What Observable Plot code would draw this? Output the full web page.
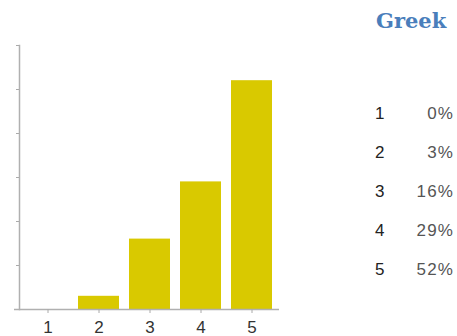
<!DOCTYPE html>
<html>
<head>
<meta charset="utf-8">
<script src="https://cdn.jsdelivr.net/npm/d3@7"></script>
<script src="https://cdn.jsdelivr.net/npm/@observablehq/plot@0.6"></script>
<style>
  html, body { margin: 0; padding: 0; background: #fff; }
  #wrap { position: relative; width: 457px; height: 336px; overflow: hidden; }
  #chart { position: absolute; left: 0; top: 0; }
  #title { position: absolute; left: 376px; top: 8px; font-family: "DejaVu Serif", "Liberation Serif", serif; font-weight: bold; font-size: 21px; color: #4a7ebb; white-space: nowrap; }
  #table { position: absolute; left: 370px; top: 104px; font-family: "Liberation Sans", Arial, sans-serif; font-size: 17px; }
  .row { position: relative; height: 39px; width: 85px; }
  .k { position: absolute; left: 5px; top: 0; color: #222; }
  .v { position: absolute; right: 2px; top: 0; color: #555; letter-spacing: 1.2px; margin-right: -1.2px; }
</style>
</head>
<body>
<div id="wrap">
  <div id="chart"></div>
  <div id="title"></div>
  <div id="table"></div>
</div>
<script>
const categories = ["1", "2", "3", "4", "5"];
const percents = [0, 3, 16, 29, 52];
const tickLabels = ["0%", "3%", "16%", "29%", "52%"];
const titleText = "Greek";
const yTicks = [0, 10, 20, 30, 40, 50, 60];

const data = categories.map((c, i) => ({cat: c, pct: percents[i]}));

const plot = Plot.plot({
  width: 290,
  height: 336,
  marginTop: 45,
  marginBottom: 27,
  marginLeft: 19,
  marginRight: 10,
  style: {background: "transparent", fontFamily: "Liberation Sans, Arial, sans-serif"},
  x: {domain: categories, paddingInner: 0.2, paddingOuter: 0.15, label: null},
  y: {domain: [0, 60], label: null},
  marks: [
    Plot.barY(data, {x: "cat", y: "pct", fill: "#d9c900"}),
    Plot.axisY({ticks: yTicks, tickSize: 3, tickFormat: () => "", stroke: "#aaa"}),
    Plot.frame({anchor: "left", stroke: "#b0b0b0", strokeWidth: 1.5}),
    Plot.ruleY([0], {stroke: "#b0b0b0", strokeWidth: 1.5, insetLeft: -5, insetRight: 1}),
    Plot.axisX({tickSize: 4, tickPadding: 7, fontSize: 17, color: "#333", stroke: "#aaa"})
  ]
});
document.getElementById("chart").appendChild(plot);

document.getElementById("title").textContent = titleText;
const table = document.getElementById("table");
categories.forEach((c, i) => {
  const row = document.createElement("div");
  row.className = "row";
  const k = document.createElement("span"); k.className = "k"; k.textContent = c;
  const v = document.createElement("span"); v.className = "v"; v.textContent = tickLabels[i];
  row.appendChild(k); row.appendChild(v);
  table.appendChild(row);
});
</script>
</body>
</html>
